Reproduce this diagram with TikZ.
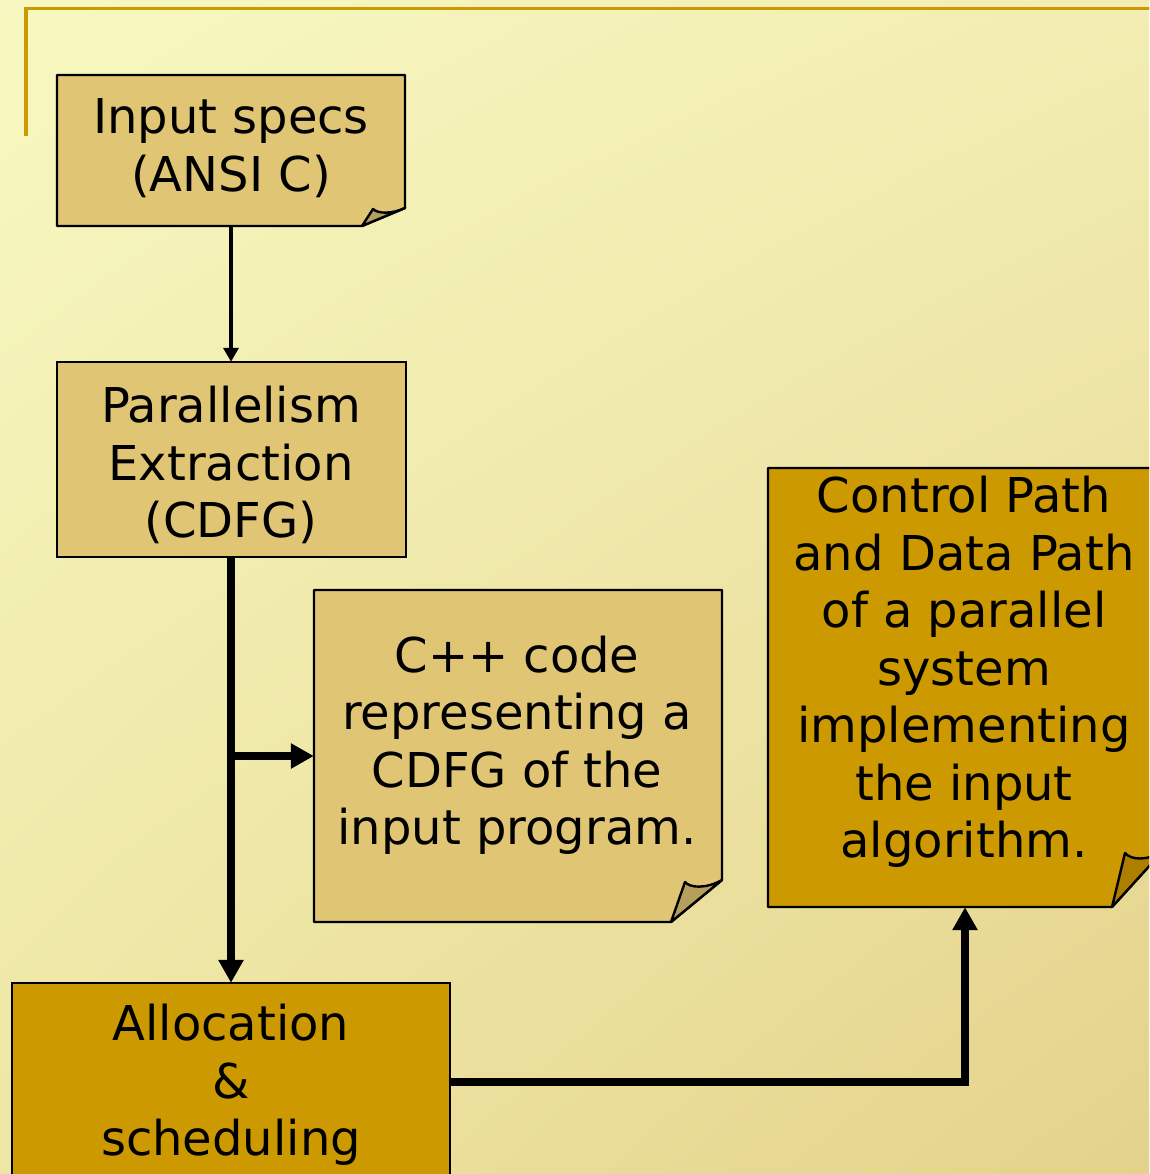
\documentclass[tikz,border=0pt]{standalone}
\usepackage{fontspec}
\setmainfont{DejaVu Sans}
\usetikzlibrary{arrows.meta,shadings}
\definecolor{tanfill}{HTML}{E0C574}
\definecolor{tanflap}{HTML}{B59F5C}
\definecolor{goldfill}{HTML}{CC9900}
\definecolor{goldflap}{HTML}{AE7E00}
\definecolor{rule}{HTML}{CC9900}
\definecolor{bgUL}{HTML}{F7F8C1}
\definecolor{bgUR}{HTML}{F2EDB2}
\definecolor{bgLL}{HTML}{EEE6A4}
\definecolor{bgLR}{HTML}{E3D28B}
\begin{document}
\begin{tikzpicture}[x=1pt,y=-1pt,
  boxline/.style={draw=black,line width=2.4pt,line join=miter},
  tanbox/.style={boxline,fill=tanfill,line join=bevel},
  tanfold/.style={boxline,fill=tanflap,line join=round},
  goldbox/.style={boxline,fill=goldfill,line join=bevel},
  goldfold/.style={boxline,fill=goldflap,line join=round},
  shapenode/.style={draw=none,fill=none,inner sep=0pt,rectangle},
  label/.style={align=center,inner sep=0pt,font=\fontsize{48}{57.5}\selectfont},
  thinarrow/.style={line width=4pt,-{Triangle[length=14pt,width=15pt]}},
  thickarrow/.style={line width=7.5pt,-{Triangle[length=23pt,width=24pt]}}]
\useasboundingbox (0,0) rectangle (1149,1174);
\begin{scope}
\clip (0,0) rectangle (1149,1174);
\shade[upper left=bgUL,upper right=bgUR,lower left=bgLL,lower right=bgLR] (0,0) rectangle (1149,1174);
% decorative rule
\draw[rule,line width=3.5pt] (26,8.5) -- (1160,8.5);
\draw[rule,line width=4pt] (26,7) -- (26,136);

% shape nodes
\node[shapenode,minimum width=348pt,minimum height=151pt] (in) at (231,150.5) {};
\node[shapenode,minimum width=349pt,minimum height=195pt] (pe) at (231,459.5) {};
\node[shapenode,minimum width=408pt,minimum height=332pt] (cpp) at (518,756) {};
\node[shapenode,minimum width=394pt,minimum height=439pt] (cp) at (965,687.5) {};
\node[shapenode,minimum width=438pt,minimum height=198pt] (al) at (231,1082) {};

% Input specs (folded)
\draw[tanbox] (57,75) -- (405,75) -- (405,208) -- (362,226) -- (57,226) -- cycle;
\draw[tanfold] (362,226) -- (373,209) .. controls (378,214) and (392,214) .. (405,208) -- cycle;
% Parallelism extraction
\draw[tanbox,line join=miter] (57,362) rectangle (406,557);
% C++ code (folded)
\draw[tanbox] (314,590) -- (722,590) -- (722,880) -- (671,922) -- (314,922) -- cycle;
\draw[tanfold] (671,922) -- (685,882) .. controls (690,888) and (706,889) .. (722,880) -- cycle;
% Control path (folded)
\draw[goldbox] (768,468) -- (1162,468) -- (1162,852) -- (1112,907) -- (768,907) -- cycle;
\draw[goldfold] (1112,907) -- (1125,853) .. controls (1131,860) and (1146,861) .. (1162,852) -- cycle;
% Allocation
\draw[goldbox,line join=miter] (12,983) rectangle (450,1181);

% texts
\node[label] (inT) at (231,148) {Input specs\\(ANSI C)};
\node[label] (peT) at (231,465) {Parallelism\\Extraction\\(CDFG)};
\node[label] (cppT) at (517,745) {C++ code\\representing a\\CDFG of the\\input program.};
\node[label] (cpT) at (964,672) {Control Path\\and Data Path\\of a parallel\\system\\implementing\\the input\\algorithm.};
\node[label] (alT) at (231,1085) {Allocation\\\&\\scheduling};

% connectors
\draw[thinarrow] (in.south) -- (pe.north);
\draw[thickarrow] (pe.south) -- (al.north);
\coordinate (br) at (pe.south |- cpp.west);
\draw[thickarrow] (br) -- (cpp.west);
\draw[thickarrow] (al.east) -- (al.east -| cp.south) -- (cp.south);
\end{scope}
\end{tikzpicture}
\end{document}
